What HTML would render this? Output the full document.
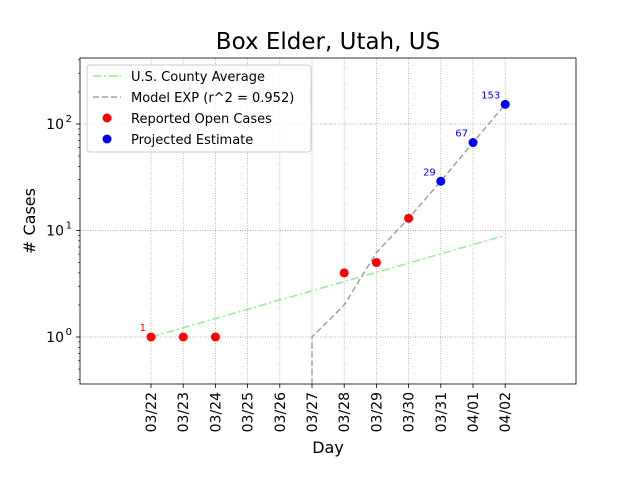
<!DOCTYPE html>
<html><head><meta charset="utf-8"><style>
body{margin:0;background:#fff;}
svg{font-family:"DejaVu Sans","Liberation Sans",sans-serif;}
</style></head><body>
<svg id="c" width="640" height="480"></svg>
<script>
const categories=["03/22","03/23","03/24","03/25","03/26","03/27","03/28","03/29","03/30","03/31","04/01","04/02"];
const reportedIdx=[0,1,2,6,7,8];
const reportedVals=[1,1,1,4,5,13];
const projectedIdx=[9,10,11];
const projectedVals=[29,67,153];
const projectedLabels=["29","67","153"];
const avgIdx=[0,11];
const avgVals=[1,9];
const modelIdx=[5,5,6,7,8,9,10,11];
const modelVals=[0.36,1,2,6.2,13,29,67,153];
const yTicks=[1,10,100];
const yTickLabels=["10","10","10"];
const yTickExp=["0","1","2"];
const NS="http://www.w3.org/2000/svg";
const svg=document.getElementById('c');
const L=80,R=576,T=58,B=384;
const x=i=>151+i*32.2;
const y=v=>337-Math.log10(v)*106.5;
function el(t,a,p){const e=document.createElementNS(NS,t);for(const k in a)e.setAttribute(k,a[k]);(p||svg).appendChild(e);return e;}
const clip=el('clipPath',{id:'cp'});el('rect',{x:L,y:T,width:R-L,height:B-T},clip);
// grid
categories.forEach((c,i)=>{
 const g=el('line',{x1:x(i),x2:x(i),y1:T,y2:B,stroke:'#999','stroke-width':0.7,'stroke-dasharray':'1,1.5'});
 
 el('line',{x1:x(i),x2:x(i),y1:B,y2:B+4,stroke:'#000','stroke-width':0.8});
 const t=el('text',{x:x(i)+5,y:B+8,'font-size':14,'text-anchor':'end',transform:`rotate(-90 ${x(i)+5} ${B+8})`});
 t.textContent=c;
});
yTicks.forEach((v,k)=>{
 el('line',{x1:L,x2:R,y1:y(v),y2:y(v),stroke:'#999','stroke-width':0.7,'stroke-dasharray':'1,1.5'});
 el('line',{x1:L-4,x2:L,y1:y(v),y2:y(v),stroke:'#000','stroke-width':0.8});
 const t=el('text',{x:L-16,y:y(v)+5,'font-size':14,'text-anchor':'end'});
 t.textContent=yTickLabels[k];
 const e=el('text',{x:L-8,y:y(v)-2,'font-size':10,'text-anchor':'end'});e.textContent=yTickExp[k];
});
for(let d=-1;d<=2;d++)for(let m=2;m<=9;m++){const v=m*Math.pow(10,d);const yy=y(v);if(yy>T&&yy<B)el('line',{x1:L-2,x2:L,y1:yy,y2:yy,stroke:'#000','stroke-width':0.6});}
// lines
const g=el('g',{'clip-path':'url(#cp)'});
const pa=el('polyline',{points:avgIdx.map((i,k)=>x(i)+','+y(avgVals[k])).join(' '),fill:'none',stroke:'#90ee90','stroke-width':1.5,'stroke-dasharray':'8,3,2,3'},g);

const pm=el('polyline',{points:modelIdx.map((i,k)=>x(i)+','+y(modelVals[k])).join(' '),fill:'none',stroke:'#a0a0a0','stroke-width':1.5,'stroke-dasharray':'6,3'},g);

reportedIdx.forEach((i,k)=>{const c=el('circle',{cx:x(i),cy:y(reportedVals[k]),r:4.5,fill:'red'},g);});
const l1=el('text',{x:x(0)-5,y:y(reportedVals[0])-6,'font-size':10,fill:'red','text-anchor':'end'});l1.textContent=String(reportedVals[0]);
projectedIdx.forEach((i,k)=>{const c=el('circle',{cx:x(i),cy:y(projectedVals[k]),r:4.5,fill:'blue'},g);
 const t=el('text',{x:x(i)-5,y:y(projectedVals[k])-6,'font-size':10,fill:'blue','text-anchor':'end'});t.textContent=projectedLabels[k];});
el('rect',{x:L,y:T,width:R-L,height:B-T,fill:'none',stroke:'#000','stroke-width':0.8});
// legend
const lg=el('g',{});
el('rect',{x:87,y:65,width:224,height:87,rx:3,fill:'#fff','fill-opacity':0.8,stroke:'#ccc'},lg);
el('line',{x1:93,x2:121,y1:76,y2:76,stroke:'#90ee90','stroke-width':1.5,'stroke-dasharray':'8,3,2,3'},lg);
el('line',{x1:93,x2:121,y1:97,y2:97,stroke:'#a0a0a0','stroke-width':1.5,'stroke-dasharray':'6,3'},lg);
el('circle',{cx:107,cy:118,r:4.5,fill:'red'},lg);el('circle',{cx:107,cy:139,r:4.5,fill:'blue'},lg);
["U.S. County Average","Model EXP (r^2 = 0.952)","Reported Open Cases","Projected Estimate"].forEach((s,k)=>{const t=el('text',{x:131,y:81+k*21,'font-size':13},lg);t.textContent=s;});
const ti=el('text',{x:328,y:49,'font-size':23,'text-anchor':'middle'});ti.textContent="Box Elder, Utah, US";
const xt=el('text',{x:328,y:453,'font-size':16,'text-anchor':'middle'});xt.textContent="Day";
const yt=el('text',{x:35,y:221,'font-size':16,'text-anchor':'middle',transform:'rotate(-90 35 221)'});yt.textContent="# Cases";
</script>
</body></html>
